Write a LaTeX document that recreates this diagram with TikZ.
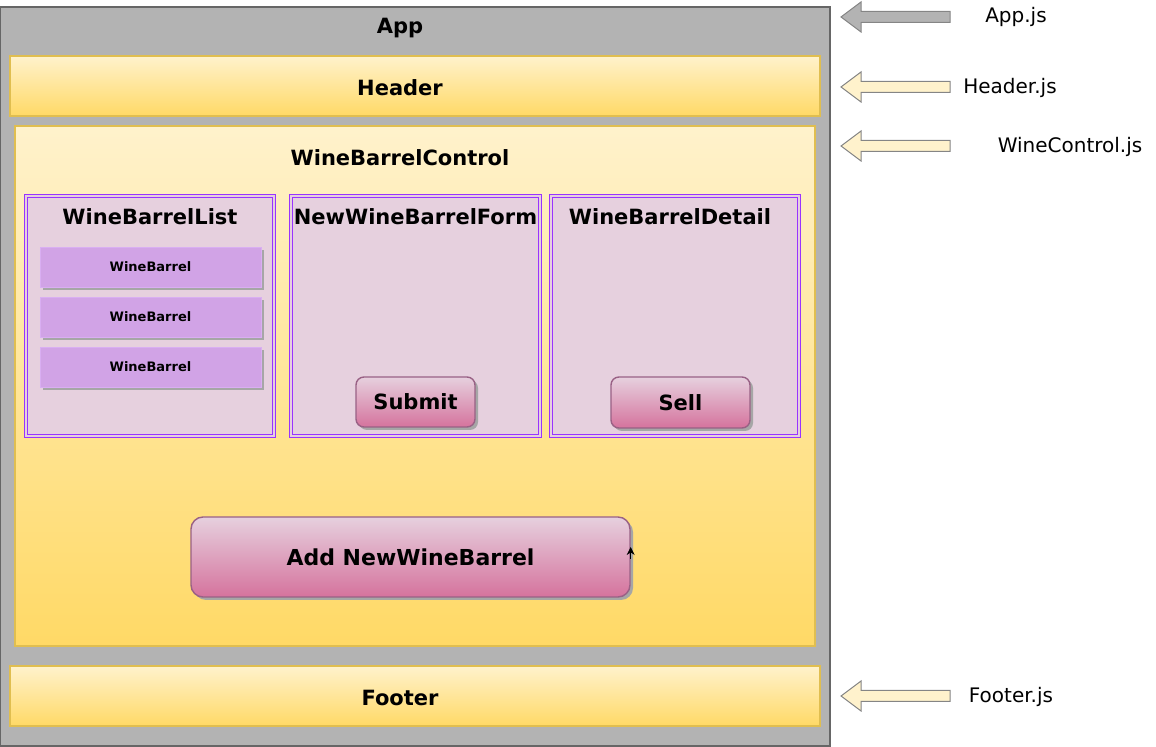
\documentclass[tikz,border=0pt]{standalone}
\usepackage{fontspec}
\setmainfont{DejaVu Sans}
\usetikzlibrary{shadows,arrows.meta}

\definecolor{appfill}{HTML}{B3B3B3}
\definecolor{appline}{HTML}{666666}
\definecolor{yeltop}{HTML}{FFF2CC}
\definecolor{yelbot}{HTML}{FFD966}
\definecolor{yelline}{HTML}{E0BE50}
\definecolor{panelfill}{HTML}{E6D0DE}
\definecolor{panelline}{HTML}{9933FF}
\definecolor{itemfill}{HTML}{D1A3E6}
\definecolor{itemline}{HTML}{D9AEF2}
\definecolor{btntop}{HTML}{E6D0DE}
\definecolor{btnbot}{HTML}{D5739D}
\definecolor{btnline}{HTML}{996185}

\tikzset{
  yelbox/.style={draw=yelline,line width=.8pt,top color=yeltop,bottom color=yelbot,inner sep=0},
  panel/.style={draw=panelline,double=panelfill,double distance=1.2pt,line width=.5pt,
    fill=panelfill,minimum height=120pt,inner sep=0},
  barrel/.style={draw=itemline,fill=itemfill,minimum width=110.5pt,minimum height=20pt,
    drop shadow={shadow xshift=1.5pt,shadow yshift=-1.5pt,fill=black!35,opacity=1},
    font=\fontsize{6.5}{8}\selectfont\bfseries},
  btn/.style={draw=btnline,line width=.7pt,rounded corners=4pt,top color=btntop,bottom color=btnbot,
    drop shadow={shadow xshift=1.5pt,shadow yshift=-1.5pt,fill=black!35,opacity=1}},
  title/.style={font=\fontsize{10.5}{12}\selectfont\bfseries,inner sep=0},
  jsname/.style={font=\fontsize{10}{12}\selectfont,inner sep=0}
}

\begin{document}
\begin{tikzpicture}[x=.5pt,y=-.5pt]
\useasboundingbox (0,0) rectangle (1156,747);

% outer app frame
\node (app) [draw=appline,fill=appfill,line width=.8pt,minimum width=415pt,minimum height=369.5pt,inner sep=0] at (415,376.5) {};
\node (apptitle) [title] at (400,28) {App};

\node (header) [yelbox,minimum width=405pt,minimum height=30pt] at (415,86) {};
\node (headertitle) [title] at (400,88) {Header};

\node (control) [yelbox,minimum width=400pt,minimum height=260pt] at (415,386) {};
\node (controltitle) [title] at (400,158) {WineBarrelControl};

\node (footer) [yelbox,minimum width=405pt,minimum height=30pt] at (415,696) {};
\node (footertitle) [title] at (400,698) {Footer};

% three panels
\node (list) [panel,minimum width=124pt] at (150,316) {};
\node (form) [panel,minimum width=124.5pt] at (415.5,316) {};
\node (detail) [panel,minimum width=124pt] at (675,316) {};
\node (listtitle) [title] at (150,217) {WineBarrelList};
\node (formtitle) [title] at (415.5,217) {NewWineBarrelForm};
\node (detailtitle) [title] at (670,217) {WineBarrelDetail};

\foreach \y [count=\i] in {267,317,367}
  \node (barrel\i) [barrel] at (150.5,\y) {WineBarrel};

% buttons
\node (submit) [btn,minimum width=59.5pt,minimum height=25pt,title] at (415.5,402) {Submit};
\node (sell) [btn,minimum width=69.5pt,minimum height=25.5pt,title] at (680.5,402.5) {Sell};
\node (add) [btn,rounded corners=6pt,minimum width=219.5pt,minimum height=40pt,
  font=\fontsize{11}{13}\selectfont\bfseries] at (410.5,557) {Add NewWineBarrel};
\draw[-{Stealth[length=4pt,width=4pt]}] ([yshift=-1pt]add.east) -- ++(0,-12);

% file arrows
\foreach \y/\c in {17/appfill,87/yeltop,146/yeltop,696/yeltop}
  \draw[draw=appline!80,fill=\c,line width=.5pt]
    (950,\y-5.5) -- (861,\y-5.5) -- (861,\y-15) -- (841,\y) -- (861,\y+15)
    -- (861,\y+5.5) -- (950,\y+5.5) -- cycle;

\node (appjs) [jsname] at (1016,17) {App.js};
\node (headerjs) [jsname] at (1010,88) {Header.js};
\node (controljs) [jsname] at (1070,147) {WineControl.js};
\node (footerjs) [jsname] at (1011,697) {Footer.js};
\end{tikzpicture}
\end{document}
